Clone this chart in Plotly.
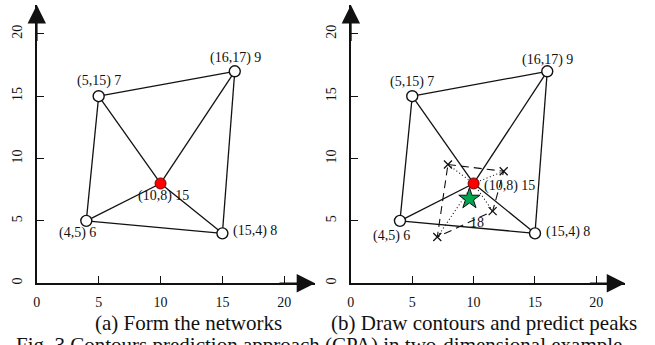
import plotly.graph_objects as go

# ---------------- data ----------------
node_x = [4, 5, 16, 15, 10]
node_y = [5, 15, 17, 4, 8]
node_val = [6, 7, 9, 8, 15]
edges = [(0, 1), (1, 2), (2, 3), (3, 0), (4, 0), (4, 1), (4, 2), (4, 3)]
center_idx = 4

contour_x = [7.91, 12.45, 11.55, 7.04]
contour_y = [9.52, 8.98, 5.78, 3.70]
contour_value = 18
contour_label_x = [10.3]
contour_label_y = [4.9]

peak_x = [9.66]
peak_y = [6.78]

x_ticks = [0, 5, 10, 15, 20]
y_ticks = [0, 5, 10, 15, 20]

captions = ["(a) Form the networks", "(b) Draw contours and predict peaks"]
fig_caption = "Fig. 3 Contours prediction approach (CPA) in two-dimensional example"

# ---------------- style ----------------
W, H = 655, 345
FONT = "Liberation Serif"
BLACK = "#111111"

# label offsets (px) per panel: (xshift, yshift, xanchor)
label_style = [
    [(-9, -12, "center"), (0, 15, "center"), (1, 13, "center"), (9, 2, "left"), (3, -13, "center")],
    [(-8, -15, "center"), (0, 14, "center"), (0, 11, "center"), (9, 1, "left"), (8, -3, "left")],
]

panels = [
    dict(xd=(33, 313), xmax=280 / 12.45, xa="x", ya="y", cap_x=186),
    dict(xd=(349, 625), xmax=276 / 12.35, xa="x2", ya="y2", cap_x=482.5),
]
y_dom = ((H - 284) / H, (H - 5) / H)
ymax = 279 / 12.5

fig = go.Figure()
annotations = []

for p, pan in enumerate(panels):
    xa, ya = pan["xa"], pan["ya"]
    ex, ey = [], []
    for a, b in edges:
        ex += [node_x[a], node_x[b], None]
        ey += [node_y[a], node_y[b], None]
    fig.add_trace(go.Scatter(x=ex, y=ey, mode="lines", xaxis=xa, yaxis=ya,
                             line=dict(color=BLACK, width=1.3), hoverinfo="skip",
                             showlegend=False))
    if p == 1:
        # dashed contour polygon
        cx = contour_x + [contour_x[0]]
        cy = contour_y + [contour_y[0]]
        fig.add_trace(go.Scatter(x=cx, y=cy, mode="lines", xaxis=xa, yaxis=ya,
                                 line=dict(color=BLACK, width=1.1, dash="8px,5px"),
                                 showlegend=False, hoverinfo="skip"))
        # dotted rays to center
        dx, dy = [], []
        for i in range(len(contour_x)):
            dx += [contour_x[i], node_x[center_idx], None]
            dy += [contour_y[i], node_y[center_idx], None]
        fig.add_trace(go.Scatter(x=dx, y=dy, mode="lines", xaxis=xa, yaxis=ya,
                                 line=dict(color=BLACK, width=1.1, dash="1px,2.5px"),
                                 showlegend=False, hoverinfo="skip"))
        fig.add_trace(go.Scatter(x=contour_x, y=contour_y, mode="markers", xaxis=xa, yaxis=ya,
                                 marker=dict(symbol="x-thin", size=8,
                                             line=dict(color=BLACK, width=1.3)),
                                 showlegend=False, hoverinfo="skip"))
    # outer nodes
    ox = [node_x[i] for i in range(len(node_x)) if i != center_idx]
    oy = [node_y[i] for i in range(len(node_y)) if i != center_idx]
    fig.add_trace(go.Scatter(x=ox, y=oy, mode="markers", xaxis=xa, yaxis=ya,
                             marker=dict(symbol="circle", size=11, color="white",
                                         line=dict(color=BLACK, width=1.4)),
                             showlegend=False, hoverinfo="skip"))
    fig.add_trace(go.Scatter(x=[node_x[center_idx]], y=[node_y[center_idx]], mode="markers",
                             xaxis=xa, yaxis=ya,
                             marker=dict(symbol="circle", size=11, color="#ff0000",
                                         line=dict(color="#700000", width=1)),
                             showlegend=False, hoverinfo="skip"))
    if p == 1:
        fig.add_trace(go.Scatter(x=peak_x, y=peak_y, mode="markers", xaxis=xa, yaxis=ya,
                                 marker=dict(symbol="star", size=16, color="#00a550",
                                             line=dict(color=BLACK, width=1)),
                                 showlegend=False, hoverinfo="skip"))
        annotations.append(dict(x=contour_label_x[0], y=contour_label_y[0], xref=xa, yref=ya,
                                text=str(contour_value), showarrow=False,
                                font=dict(family=FONT, size=14, color=BLACK)))
    # node labels
    for i in range(len(node_x)):
        xs, ys, anc = label_style[p][i]
        annotations.append(dict(x=node_x[i], y=node_y[i], xref=xa, yref=ya,
                                text=f"({node_x[i]},{node_y[i]}) {node_val[i]}",
                                showarrow=False, xshift=xs, yshift=ys, xanchor=anc,
                                font=dict(family=FONT, size=14, color=BLACK)))
    # axis arrows
    annotations.append(dict(x=pan["xmax"], y=0, ax=pan["xmax"] - 3, ay=0, xref=xa, yref=ya,
                            axref=xa, ayref=ya, text="", showarrow=True, arrowhead=2,
                            arrowsize=2.3, arrowwidth=1.6, arrowcolor=BLACK, standoff=0))
    annotations.append(dict(x=0, y=ymax, ax=0, ay=ymax - 3, xref=xa, yref=ya,
                            axref=xa, ayref=ya, text="", showarrow=True, arrowhead=2,
                            arrowsize=2.3, arrowwidth=1.6, arrowcolor=BLACK, standoff=0))
    # caption
    annotations.append(dict(x=pan["cap_x"] / W, y=1 - 324 / H, xref="paper", yref="paper",
                            text=captions[p], showarrow=False, xanchor="center", yanchor="middle",
                            font=dict(family=FONT, size=21, color=BLACK)))

annotations.append(dict(x=10 / W, y=1 - 346 / H, xref="paper", yref="paper",
                        text=fig_caption, showarrow=False, xanchor="left", yanchor="middle",
                        font=dict(family=FONT, size=21, color=BLACK)))

axis_common = dict(showgrid=False, zeroline=False, showline=True, linecolor=BLACK, linewidth=1.6,
                   ticks="inside", ticklen=7, tickwidth=1.4, tickcolor=BLACK,
                   tickfont=dict(family=FONT, size=14, color=BLACK))

layout_axes = {}
for p, pan in enumerate(panels):
    sfx = "" if p == 0 else "2"
    layout_axes["xaxis" + sfx] = dict(domain=[pan["xd"][0] / W, pan["xd"][1] / W],
                                      range=[0, pan["xmax"]], anchor="y" + sfx,
                                      tickvals=x_ticks, ticklabelstandoff=5, **axis_common)
    layout_axes["yaxis" + sfx] = dict(domain=list(y_dom), range=[0, ymax], anchor="x" + sfx,
                                      tickvals=y_ticks, tickangle=-90, ticklabelstandoff=7,
                                      **axis_common)

fig.update_layout(width=W, height=H, margin=dict(l=0, r=0, t=0, b=0),
                  paper_bgcolor="white", plot_bgcolor="white",
                  annotations=annotations, showlegend=False, **layout_axes)

fig.write_html("out.html")
